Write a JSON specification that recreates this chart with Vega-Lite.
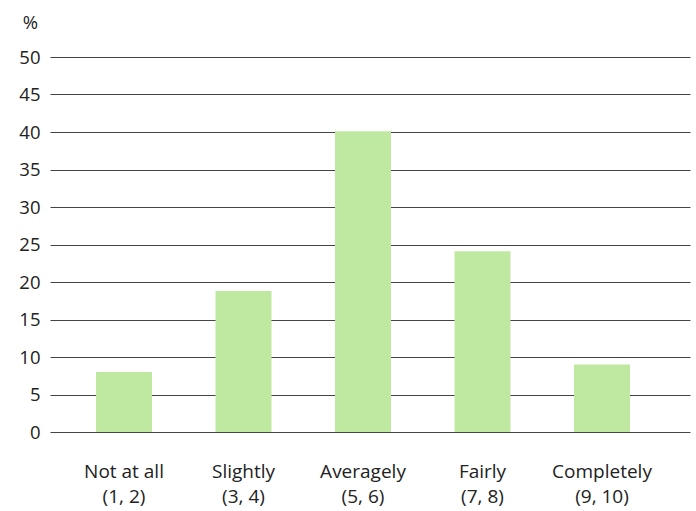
{
  "$schema": "https://vega.github.io/schema/vega-lite/v6.json",
  "autosize": "none",
  "width": 640,
  "height": 375,
  "padding": {"left": 50, "top": 57, "right": 6, "bottom": 79},
  "background": "white",
  "data": {"values": [
    {"category": "Not at all|(1, 2)", "pct": 8.0},
    {"category": "Slightly|(3, 4)", "pct": 18.8},
    {"category": "Averagely|(5, 6)", "pct": 40.1},
    {"category": "Fairly|(7, 8)", "pct": 24.1},
    {"category": "Completely|(9, 10)", "pct": 9.0}
  ]},
  "mark": {"type": "bar", "color": "#BFE8A0"},
  "encoding": {
    "x": {
      "field": "category", "type": "nominal", "sort": null,
      "scale": {"paddingInner": 0.5314, "paddingOuter": 0.4435, "align": 0.434},
      "axis": {
        "title": null, "labelAngle": 0, "domain": false, "ticks": false,
        "labelExpr": "split(datum.value, '|')",
        "labelFont": "Open Sans", "labelFontSize": 19, "labelColor": "#222",
        "labelPadding": 30, "labelLineHeight": 25, "labelBaseline": "top"
      }
    },
    "y": {
      "field": "pct", "type": "quantitative",
      "scale": {"domain": [0, 50], "nice": false},
      "axis": {
        "values": [0, 5, 10, 15, 20, 25, 30, 35, 40, 45, 50],
        "title": "%", "titleAngle": 0, "titleFont": "Open Sans", "titleFontSize": 18.5,
        "titleFontWeight": "normal", "titleColor": "#222",
        "titleAlign": "center", "titleBaseline": "middle", "titleX": -20, "titleY": -35,
        "domain": false, "ticks": false,
        "labelFont": "Open Sans", "labelFontSize": 18.5, "labelColor": "#222", "labelPadding": 10,
        "grid": true, "gridColor": "#444", "gridWidth": 1.2
      }
    }
  },
  "config": {"view": {"stroke": null}}
}
